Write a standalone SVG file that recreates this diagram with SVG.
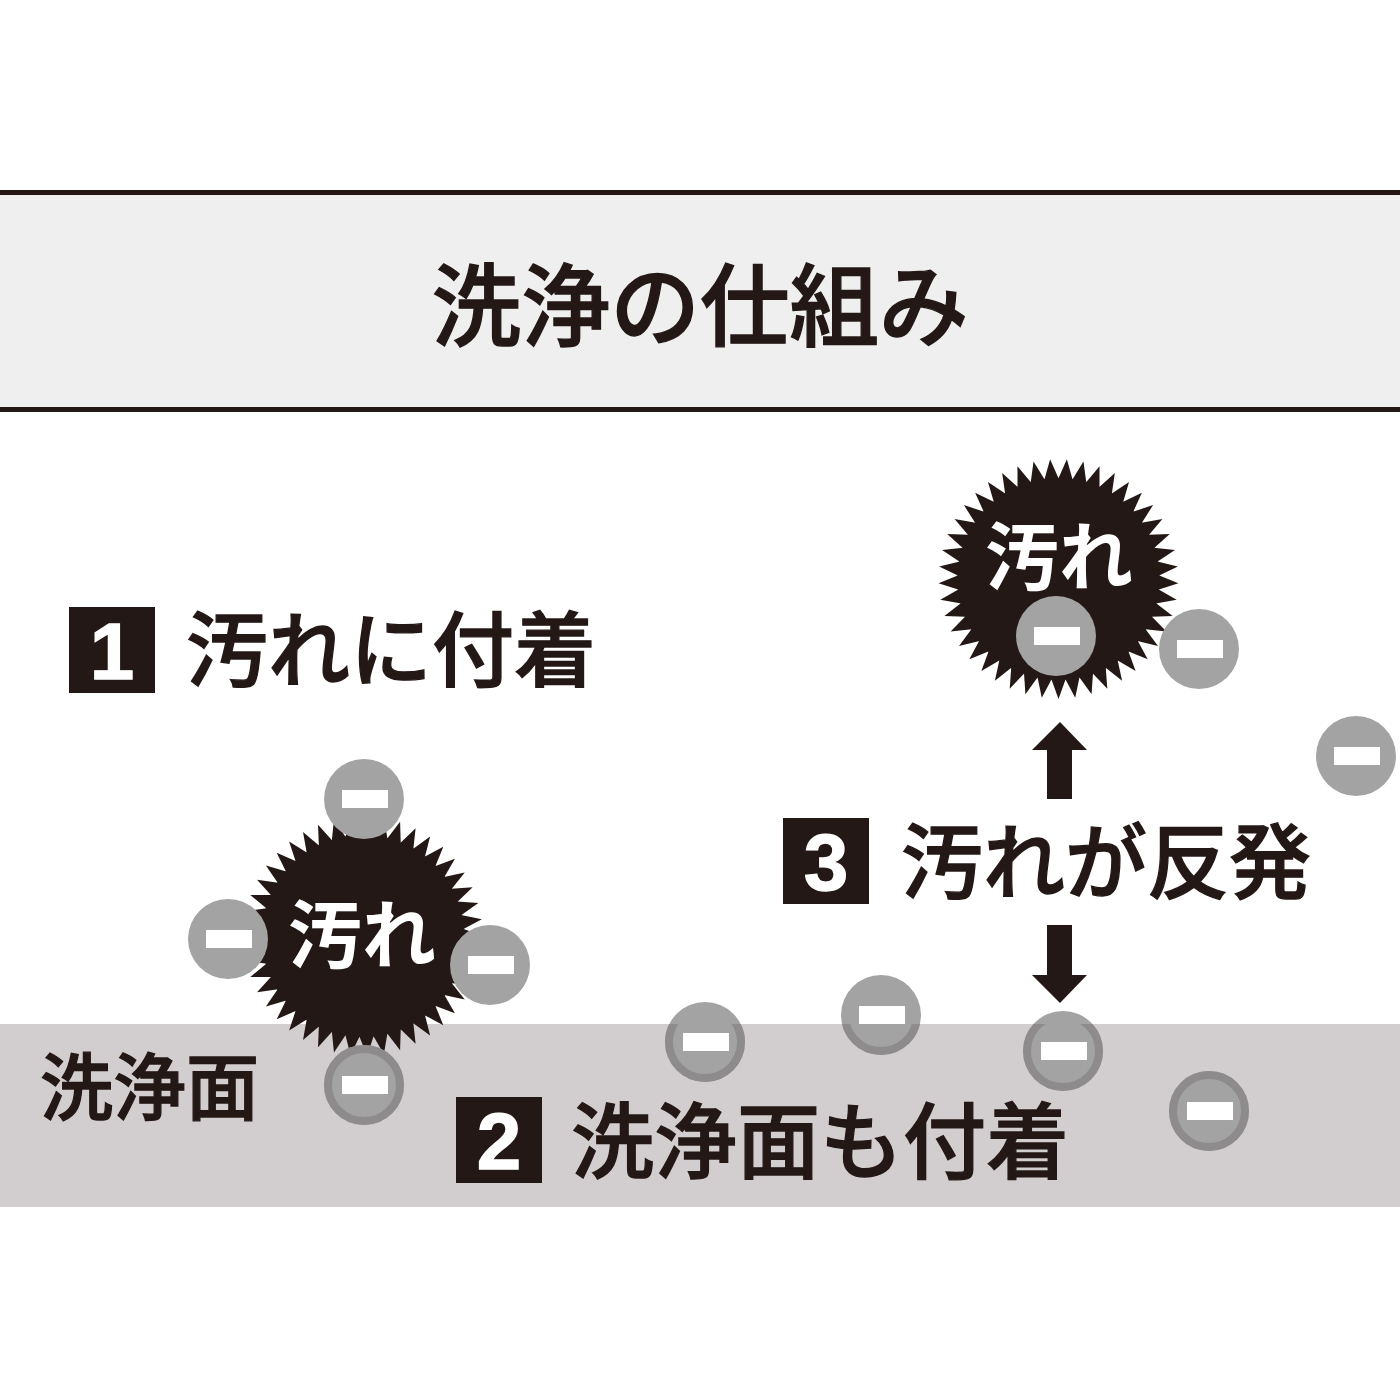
<svg xmlns="http://www.w3.org/2000/svg" width="1400" height="1400" viewBox="0 0 1400 1400">
<style>
text{font-family:"Noto Sans CJK JP","Liberation Sans",sans-serif;font-weight:500;fill:#231815;stroke:#231815;stroke-width:1.3}
.w{fill:#fff;stroke:none;font-weight:700}
.num{font-family:"Liberation Sans",sans-serif;font-weight:700;fill:#fff;stroke:#fff;font-size:80px;text-anchor:middle}
.ink{fill:#231815}
.c{fill:#a3a3a3}
.r{fill:none;stroke:#8e8b8c;stroke-width:8}
.m{fill:#fff}
</style>
<defs>
<polygon id="t" points="-7.2,-100 0,-120 7.2,-100" class="ink"/>
<g id="t3"><use href="#t"/><use href="#t" transform="rotate(8)"/><use href="#t" transform="rotate(16)"/></g>
<g id="t9"><use href="#t3"/><use href="#t3" transform="rotate(24)"/><use href="#t3" transform="rotate(48)"/></g>
<g id="burst"><circle r="101" class="ink"/><use href="#t9"/><use href="#t9" transform="rotate(72)"/><use href="#t9" transform="rotate(144)"/><use href="#t9" transform="rotate(216)"/><use href="#t9" transform="rotate(288)"/></g>
<g id="ion"><circle r="40" class="c"/><rect x="-22" y="-9" width="46" height="18" class="m"/></g>
<clipPath id="band"><rect y="1024" width="1400" height="183"/></clipPath>
</defs>
<rect width="1400" height="1400" fill="#fff"/>
<g id="header">
<rect y="190" width="1400" height="222" fill="#efefef"/>
<rect y="190" width="1400" height="5" class="ink"/>
<rect y="407" width="1400" height="5" class="ink"/>
<text x="700" y="339" font-size="89.5" text-anchor="middle">洗浄の仕組み</text>
</g>
<g id="surface">
<rect y="1024" width="1400" height="183" fill="#d2cdcf"/>
<text x="40" y="1114" font-size="73">洗浄面</text>
</g>
<g id="step1"><rect x="69" y="607" width="86" height="86" class="ink"/><text class="num" x="112" y="679">1</text><text x="186" y="680" font-size="82">汚れに付着</text></g>
<g id="step2"><rect x="456" y="1097" width="86" height="86" class="ink"/><text class="num" x="499" y="1169">2</text><text x="571" y="1172" font-size="83">洗浄面も付着</text></g>
<g id="step3"><rect x="783" y="818" width="86" height="86" class="ink"/><text class="num" x="826" y="890">3</text><text x="901" y="892" font-size="82">汚れが反発</text></g>
<g id="dirt1"><use href="#burst" transform="translate(363,936) rotate(2)"/><text class="w" x="362" y="962" font-size="74" text-anchor="middle">汚れ</text></g>
<g id="dirt2"><use href="#burst" transform="translate(1058.5,579) rotate(4)"/><text class="w" x="1059" y="584" font-size="74" text-anchor="middle">汚れ</text></g>
<g id="connectors">
<polygon class="ink" points="1047,799 1047,750 1032,750 1060,722 1087,750 1072,750 1072,799"/>
<polygon class="ink" points="1047,925 1072,925 1072,975 1087,975 1060,1003 1032,975 1047,975"/>
</g>
<g id="ions">
<use href="#ion" x="364" y="799"/><use href="#ion" x="228" y="939"/><use href="#ion" x="490" y="965"/>
<use href="#ion" x="364" y="1085"/>
<use href="#ion" x="1056" y="636"/><use href="#ion" x="1199" y="649"/><use href="#ion" x="1356" y="756"/>
<use href="#ion" x="705" y="1042"/><use href="#ion" x="881" y="1015"/><use href="#ion" x="1063" y="1051"/><use href="#ion" x="1209" y="1111"/>
</g>
<g id="ion-rings" clip-path="url(#band)">
<circle class="r" cx="364" cy="1085" r="36"/><circle class="r" cx="705" cy="1042" r="36"/><circle class="r" cx="881" cy="1015" r="36"/><circle class="r" cx="1063" cy="1051" r="36"/><circle class="r" cx="1209" cy="1111" r="36"/>
</g>
</svg>
